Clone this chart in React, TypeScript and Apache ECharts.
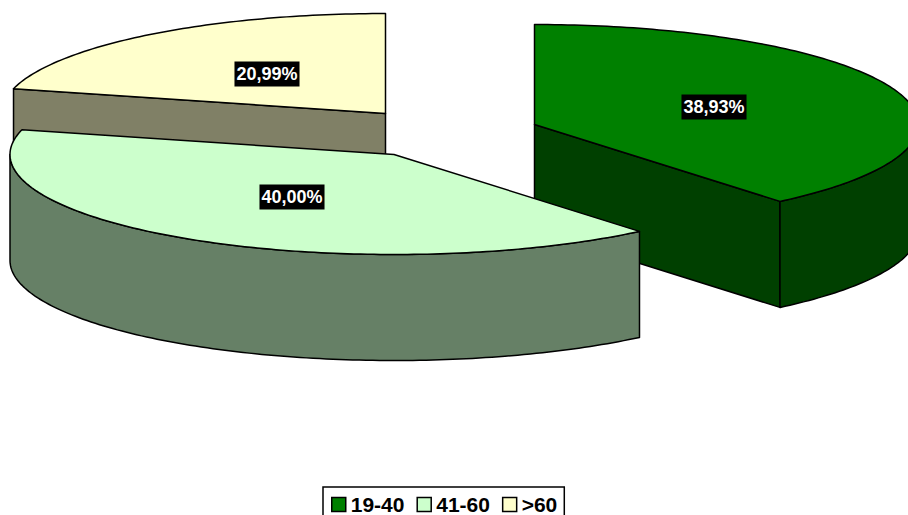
import React, { useEffect, useRef } from "react";
import * as echarts from "echarts";

const categories = ["19-40", "41-60", ">60"];
const shares = [38.93, 40.0, 20.99];
const topColors = ["#008000", "#CCFFCC", "#FFFFCC"];
const sideColors = ["#004000", "#668066", "#808066"];

// layout of the exploded 3D pie
const centres = [[534.5, 124.5], [394, 154.5], [385.5, 113.5]];
const labelAt = [[714, 107], [292, 197], [267, 74]];
const drawOrder = [1, 3, 2];
const RX = 384;
const RY = 100;
const DEPTH = 106;
const total = shares.reduce((a, b) => a + b, 0);

const rim = (c: number[], deg: number, dy = 0) => {
  const a = (deg * Math.PI) / 180;
  return [c[0] + RX * Math.sin(a), c[1] - RY * Math.cos(a) + dy];
};
const arc = (c: number[], from: number, to: number, dy = 0) => {
  const pts: number[][] = [];
  const n = Math.max(2, Math.ceil(Math.abs(to - from)));
  for (let i = 0; i <= n; i++) pts.push(rim(c, from + ((to - from) * i) / n, dy));
  return pts;
};

function makeRender(idx: number) {
  return (_params: any, api: any) => {
    const value = api.value(0);
    const before = shares.slice(0, idx).reduce((a, b) => a + b, 0);
    const a0 = (before / total) * 360;
    const a1 = a0 + (value / total) * 360;
    const c = centres[idx];
    const line = { stroke: "#000", lineWidth: 1.5, lineJoin: "round" };
    const children: any[] = [];
    const side = (pts: number[][]) =>
      children.push({ type: "polygon", shape: { points: pts }, style: { fill: sideColors[idx], ...line } });
    const radial = (deg: number) => {
      const r = rim(c, deg);
      side([c, r, [r[0], r[1] + DEPTH], [c[0], c[1] + DEPTH]]);
    };
    if (Math.sin((a0 * Math.PI) / 180) < -1e-6) radial(a0);
    if (Math.sin((a1 * Math.PI) / 180) > 1e-6) radial(a1);
    const s0 = Math.max(a0, 90);
    const s1 = Math.min(a1, 270);
    if (s1 > s0) side([...arc(c, s0, s1), ...arc(c, s1, s0, DEPTH)]);
    children.push({
      type: "polygon",
      shape: { points: [c, ...arc(c, a0, a1)] },
      style: { fill: topColors[idx], ...line },
    });
    children.push({
      type: "text",
      z2: 10,
      style: {
        text: value.toFixed(2).replace(".", ",") + "%",
        x: labelAt[idx][0],
        y: labelAt[idx][1],
        align: "center",
        verticalAlign: "middle",
        fill: "#fff",
        font: 'bold 18px "Liberation Sans", Arial, sans-serif',
        backgroundColor: "#000",
        padding: [4, 2, 3, 2],
      },
    });
    return { type: "group", children };
  };
}

export default function App() {
  const ref = useRef<HTMLDivElement>(null);
  useEffect(() => {
    const chart = echarts.init(ref.current!, null, { renderer: "svg" });
    chart.setOption({
      animation: false,
      backgroundColor: "#fff",
      legend: {
        data: categories,
        left: 323,
        top: 487,
        orient: "horizontal",
        icon: "rect",
        itemWidth: 14,
        itemHeight: 14,
        itemGap: 12,
        padding: [7, 7, 9, 8],
        borderColor: "#000",
        borderWidth: 1.5,
        backgroundColor: "#fff",
        selectedMode: false,
        textStyle: {
          color: "#000",
          fontFamily: '"Liberation Sans", Arial, sans-serif',
          fontWeight: "bold",
          fontSize: 21,
          lineHeight: 20,
        },
        itemStyle: { borderColor: "#000", borderWidth: 1.5 },
      },
      series: categories.map((name, i) => ({
        type: "custom",
        name,
        coordinateSystem: "none",
        z: drawOrder[i],
        silent: true,
        itemStyle: { color: topColors[i] },
        data: [[shares[i]]],
        renderItem: makeRender(i),
      })),
    });
    return () => chart.dispose();
  }, []);
  return (
    <div
      ref={ref}
      style={{ position: "fixed", left: 0, top: 0, width: 908, height: 515, overflow: "hidden" }}
    />
  );
}
